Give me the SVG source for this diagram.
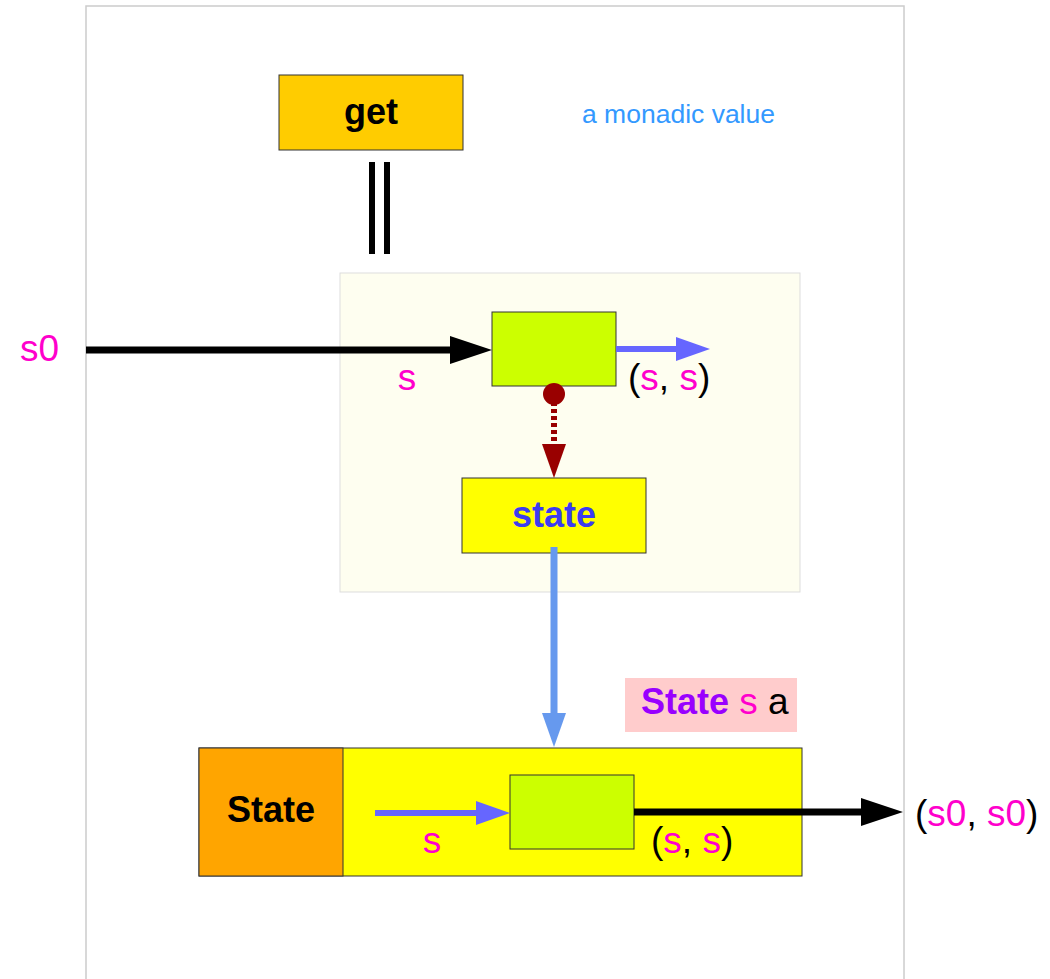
<svg xmlns="http://www.w3.org/2000/svg" width="1050" height="979" viewBox="0 0 1050 979">
<style>
text{font-family:"Liberation Sans",Arial,sans-serif;font-size:37px}
.b{font-weight:bold;font-size:36px}
.p{fill:#ff00cc}
.k{fill:#000}
.box{stroke:#333;stroke-width:1}
</style>
<defs>
<marker id="ak" markerUnits="userSpaceOnUse" markerWidth="42" markerHeight="28" refX="0" refY="14" orient="auto"><path d="M0,0 L42,14 L0,28 Z" fill="#000"/></marker>
<marker id="ab" markerUnits="userSpaceOnUse" markerWidth="34" markerHeight="24" refX="0" refY="12" orient="auto"><path d="M0,0 L34,12 L0,24 Z" fill="#6666ff"/></marker>
<marker id="ac" markerUnits="userSpaceOnUse" markerWidth="34" markerHeight="24" refX="0" refY="12" orient="auto"><path d="M0,0 L34,12 L0,24 Z" fill="#6699ee"/></marker>
<marker id="ar" markerUnits="userSpaceOnUse" markerWidth="34" markerHeight="24" refX="0" refY="12" orient="auto"><path d="M0,0 L34,12 L0,24 Z" fill="#990000"/></marker>
</defs>
<rect x="86" y="6" width="818" height="990" fill="#fff" stroke="#ccc" stroke-width="1.5"/>
<g id="context">
<rect x="340" y="273" width="460" height="319" fill="#fefef0" stroke="#ddd" stroke-width="1"/>
</g>
<g id="get">
<rect class="box" x="279" y="75" width="184" height="75" fill="#ffcc00"/>
<text class="b" x="371" y="124" text-anchor="middle">get</text>
</g>
<text x="582" y="123" style="font-size:26.5px" fill="#3399ff">a monadic value</text>
<g id="inner-fn">
<rect class="box" x="492" y="312" width="124" height="74" fill="#ccff00"/>
</g>
<g id="state">
<rect class="box" x="462" y="478" width="184" height="75" fill="#ffff00"/>
<text class="b" x="554" y="527" text-anchor="middle" fill="#3c3cf0">state</text>
</g>
<g id="label-state-s-a">
<rect x="625" y="678" width="172" height="54" fill="#ffcccc"/>
<text x="641" y="714"><tspan class="b" fill="#9900ff">State</tspan> <tspan class="p">s</tspan> <tspan class="k">a</tspan></text>
</g>
<g id="State">
<rect class="box" x="199" y="748" width="603" height="128" fill="#ffff00"/>
<rect class="box" x="199" y="748" width="144" height="128" fill="#ffa500"/>
<text class="b" x="271" y="822" text-anchor="middle">State</text>
<rect class="box" x="510" y="775" width="124" height="74" fill="#ccff00"/>
</g>
<g id="connectors" fill="none">
<line x1="372" y1="162" x2="372" y2="254" stroke="#000" stroke-width="6"/>
<line x1="387" y1="162" x2="387" y2="254" stroke="#000" stroke-width="6"/>
<line x1="86" y1="350" x2="450" y2="350" stroke="#000" stroke-width="7" marker-end="url(#ak)"/>
<line x1="616" y1="349" x2="676" y2="349" stroke="#6666ff" stroke-width="6" marker-end="url(#ab)"/>
<circle cx="554" cy="394" r="11" fill="#990000"/>
<line x1="554" y1="402" x2="554" y2="444" stroke="#990000" stroke-width="6" stroke-dasharray="4,3" marker-end="url(#ar)"/>
<line x1="554" y1="547" x2="554" y2="713" stroke="#6699ee" stroke-width="7" marker-end="url(#ac)"/>
<line x1="375" y1="813" x2="476" y2="813" stroke="#6666ff" stroke-width="6" marker-end="url(#ab)"/>
<line x1="634" y1="812" x2="861" y2="812" stroke="#000" stroke-width="7" marker-end="url(#ak)"/>
</g>
<g id="labels">
<text class="p" x="20" y="361">s0</text>
<text class="p" x="407" y="390" text-anchor="middle">s</text>
<text x="628" y="390"><tspan class="k">(</tspan><tspan class="p">s</tspan><tspan class="k">, </tspan><tspan class="p">s</tspan><tspan class="k">)</tspan></text>
<text class="p" x="432" y="853" text-anchor="middle">s</text>
<text x="651" y="853"><tspan class="k">(</tspan><tspan class="p">s</tspan><tspan class="k">, </tspan><tspan class="p">s</tspan><tspan class="k">)</tspan></text>
<text x="915" y="826"><tspan class="k">(</tspan><tspan class="p">s0</tspan><tspan class="k">, </tspan><tspan class="p">s0</tspan><tspan class="k">)</tspan></text>
</g>
</svg>
